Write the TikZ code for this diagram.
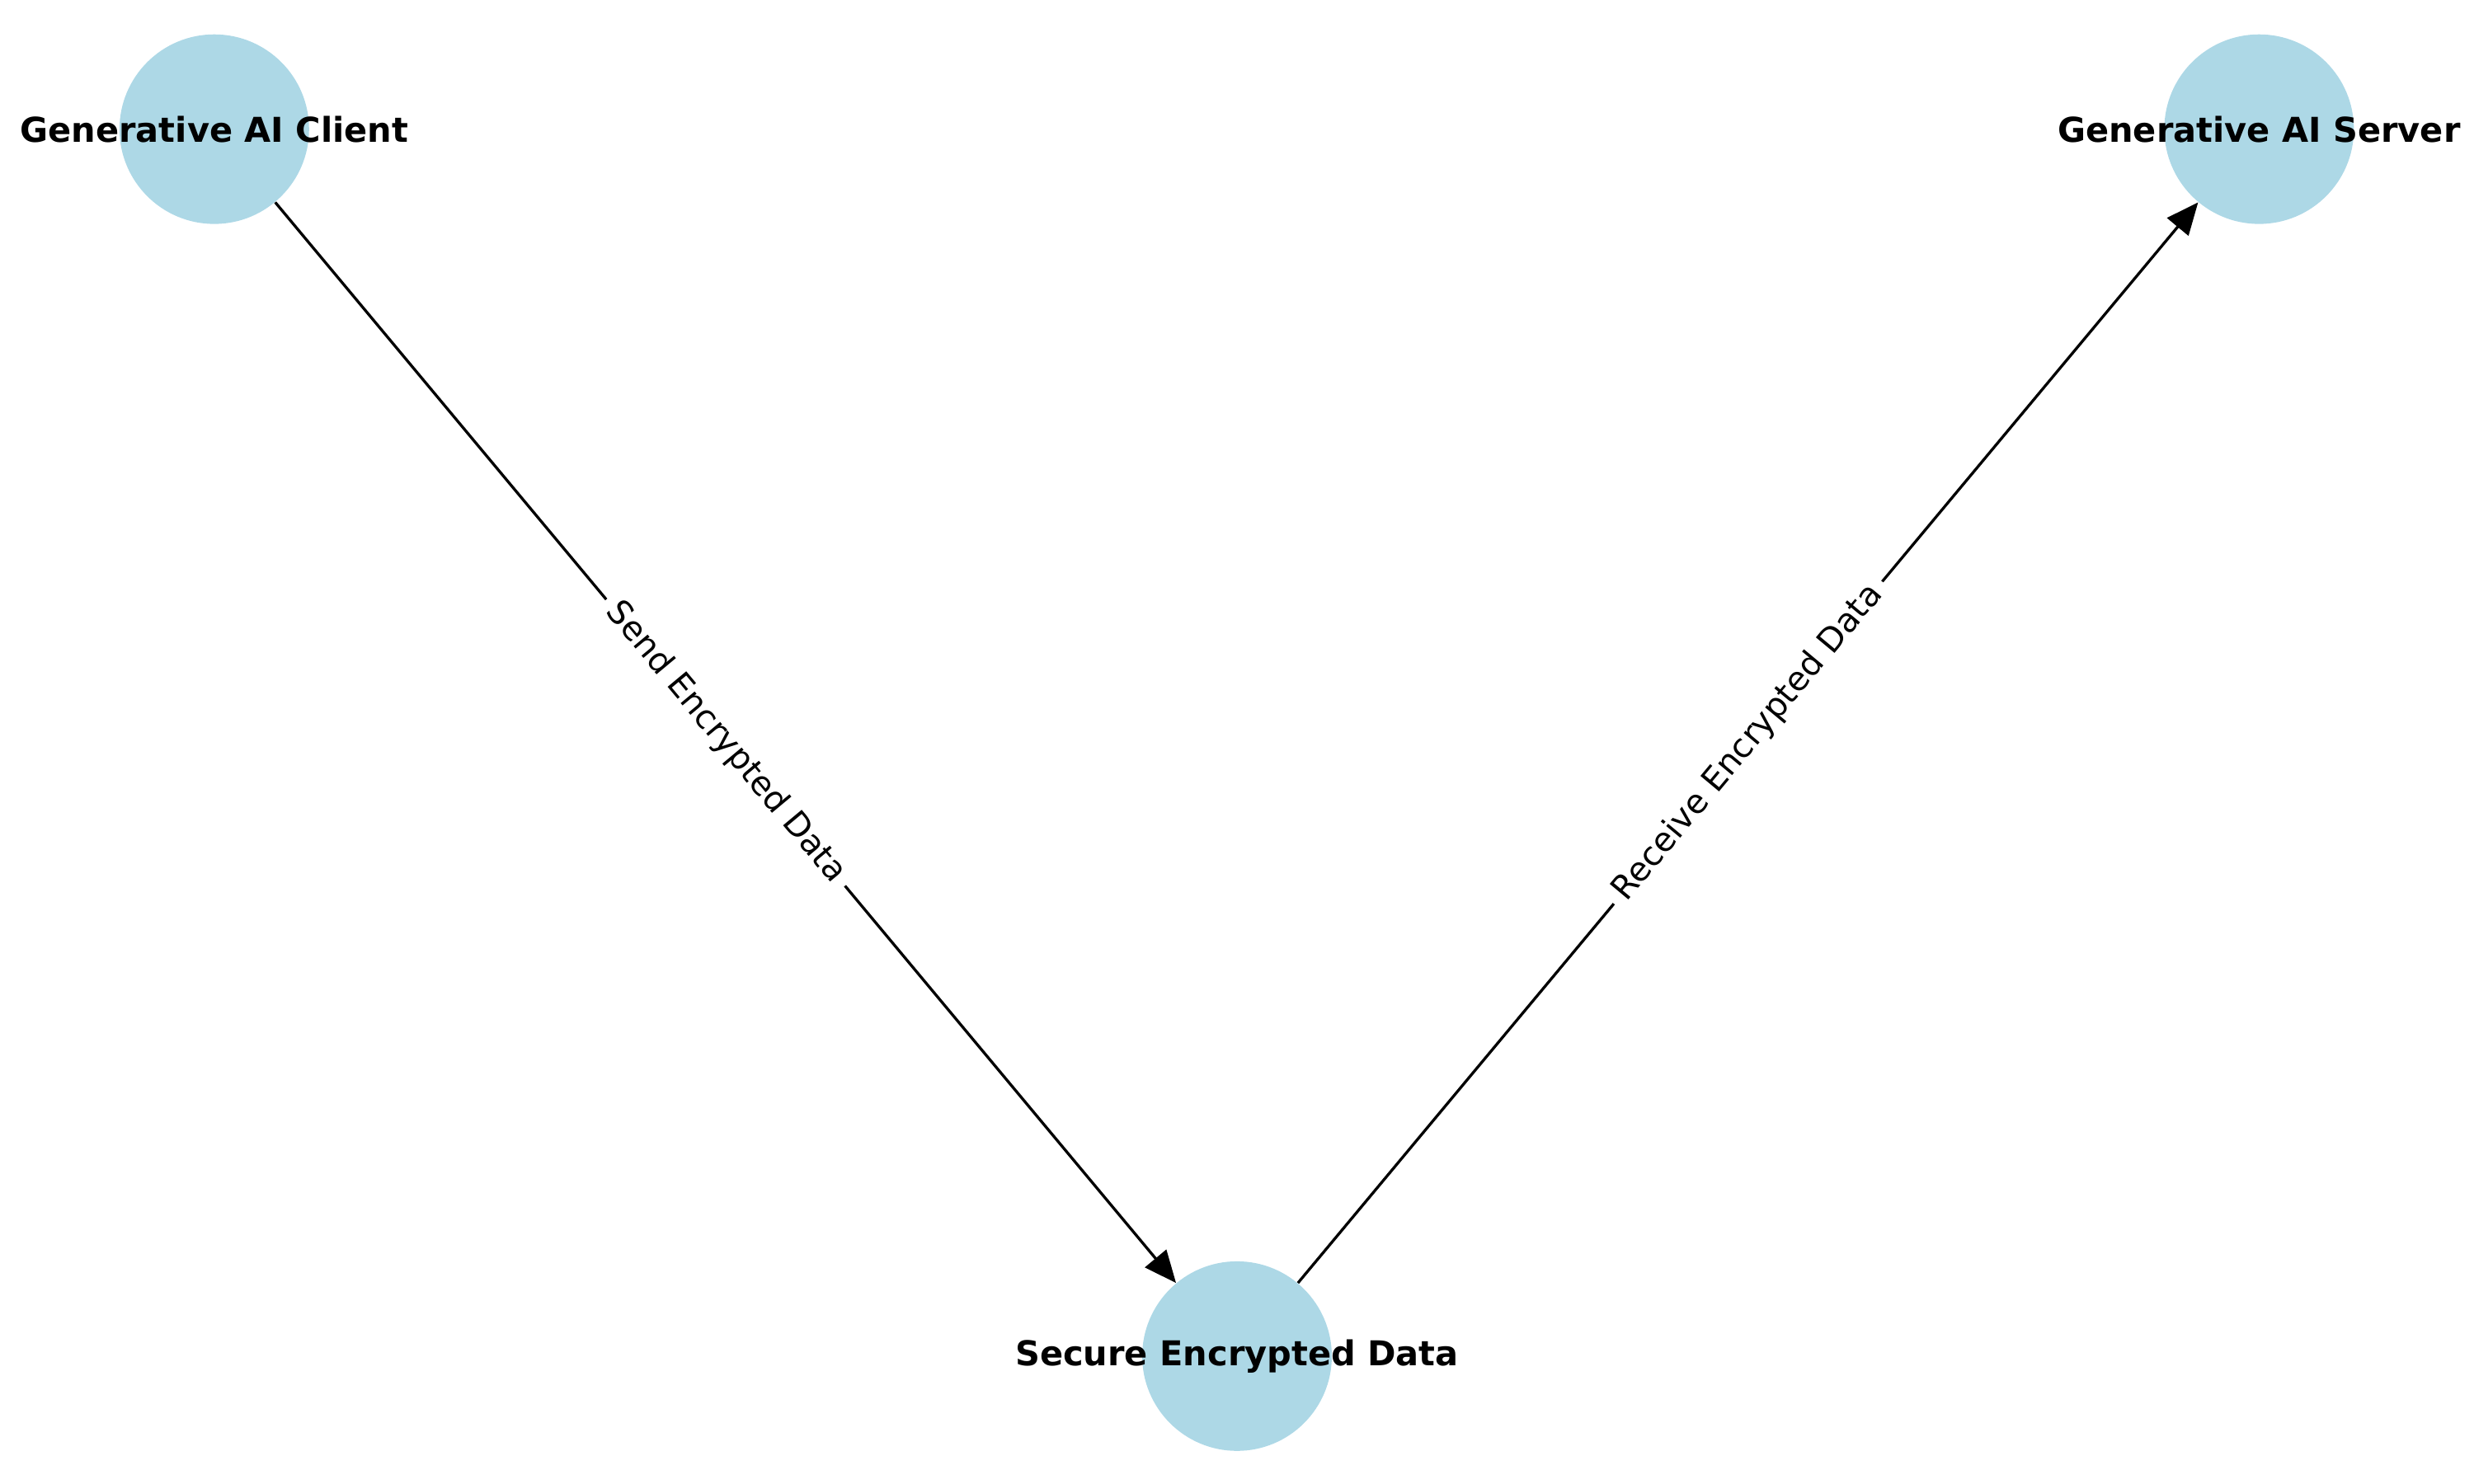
\documentclass[tikz,border=0pt]{standalone}
\usepackage{fontspec}
\setsansfont{DejaVu Sans}
\usetikzlibrary{arrows.meta}

\definecolor{nodeblue}{HTML}{ADD8E6}
\tikzset{
  ainode/.style={circle, fill=nodeblue, minimum size=2.92cm, inner sep=0pt},
  ailabel/.style={font=\sffamily\bfseries\fontsize{15}{18}\selectfont},
  aiedge/.style={line width=1.2pt, -{Triangle[length=14pt,width=12pt]}},
  edgetext/.style={font=\sffamily\fontsize{14.6}{17}\selectfont, fill=white, inner sep=4pt, sloped, midway}
}

\begin{document}
\begin{tikzpicture}
\useasboundingbox (0,0) rectangle (38.1,22.86);
\node[ainode] (client) at (3.30,20.87) {};
\node[ainode] (server) at (34.79,20.87) {};
\node[ainode] (secure) at (19.05,1.97) {};
\node[ailabel] at (client) {Generative AI Client};
\node[ailabel] at (server) {Generative AI Server};
\node[ailabel] at (secure) {Secure Encrypted Data};
\draw[aiedge] (client) -- node[edgetext] {Send Encrypted Data} (secure);
\draw[aiedge] (secure) -- node[edgetext] {Receive Encrypted Data} (server);
\end{tikzpicture}
\end{document}
